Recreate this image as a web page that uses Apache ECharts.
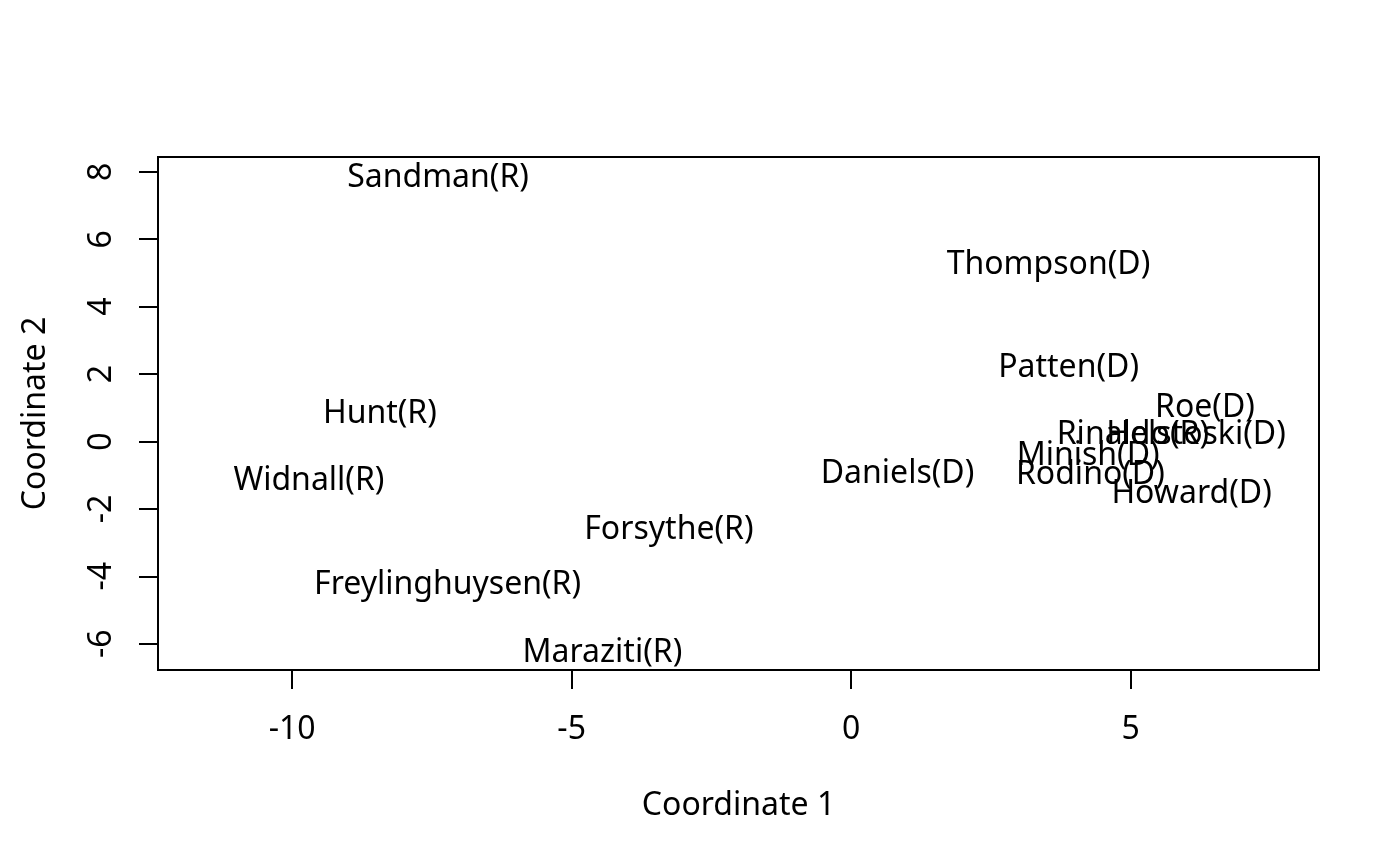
<!DOCTYPE html>
<html>
<head>
<meta charset="utf-8">
<script src="https://cdn.jsdelivr.net/npm/echarts@6/dist/echarts.min.js"></script>
<style>
  html, body { margin: 0; padding: 0; background: #fff; }
  #main { width: 1400px; height: 866px; }
</style>
</head>
<body>
<div id="main"></div>
<script>
// MDS coordinates
let names = ['Sandman(R)', 'Thompson(D)', 'Patten(D)', 'Roe(D)', 'Rinaldo(R)', 'Helstoski(D)',
    'Hunt(R)', 'Minish(D)', 'Widnall(R)', 'Daniels(D)', 'Rodino(D)', 'Howard(D)',
    'Forsythe(R)', 'Freylinghuysen(R)', 'Maraziti(R)'];
let coord1 = [-7.39, 3.53, 3.89, 6.33, 5.04, 6.17, -8.43, 4.24, -9.70, 0.83, 4.28, 6.09, -3.26, -7.22, -4.45];
let coord2 = [7.91, 5.34, 2.26, 1.10, 0.28, 0.28, 0.92, -0.34, -1.09, -0.88, -0.89, -1.46, -2.53, -4.16, -6.17];
let xTicks = [-10, -5, 0, 5];
let yTicks = [-6, -4, -2, 0, 2, 4, 6, 8];

let font = 'Noto Sans';
let myChart = echarts.init(document.getElementById('main'));

let points = names.map(function(n, i) {
    return { name: n, value: [coord1[i], coord2[i]] };
});

let option = {
    animation: false,
    backgroundColor: '#fff',
    grid: {
        left: 158, right: 81, top: 157, bottom: 196,
        show: true, borderColor: '#000', borderWidth: 2, backgroundColor: 'transparent'
    },
    xAxis: {
        type: 'value',
        min: -12.4, max: 8.37,
        name: 'Coordinate 1',
        nameLocation: 'middle',
        nameGap: 120,
        nameTextStyle: { fontFamily: font, fontSize: 32, color: '#000' },
        splitLine: { show: false },
        axisLine: { show: false, onZero: false },
        axisTick: { show: true, length: 19, customValues: xTicks, lineStyle: { color: '#000', width: 2 } },
        axisLabel: { customValues: xTicks, margin: 44, fontFamily: font, fontSize: 32, color: '#000' }
    },
    yAxis: {
        type: 'value',
        min: -6.78, max: 8.44,
        name: 'Coordinate 2',
        nameLocation: 'middle',
        nameGap: 106,
        nameRotate: 90,
        nameTextStyle: { fontFamily: font, fontSize: 32, color: '#000' },
        splitLine: { show: false },
        axisLine: { show: false, onZero: false },
        axisTick: { show: true, length: 19, customValues: yTicks, lineStyle: { color: '#000', width: 2 } },
        axisLabel: { customValues: yTicks, rotate: 90, margin: 40, fontFamily: font, fontSize: 32, color: '#000' }
    },
    series: [
        {
            type: 'scatter',
            symbolSize: 0,
            itemStyle: { color: '#000', opacity: 1 },
            label: {
                show: true,
                position: [0, 3],
                align: 'center',
                verticalAlign: 'middle',
                formatter: '{b}',
                fontFamily: font,
                fontSize: 32,
                color: '#000',
                opacity: 1,
                textBorderWidth: 0
            },
            labelLayout: { hideOverlap: false },
            emphasis: { disabled: true },
            data: points
        }
    ]
};
myChart.setOption(option);
</script>
</body>
</html>
